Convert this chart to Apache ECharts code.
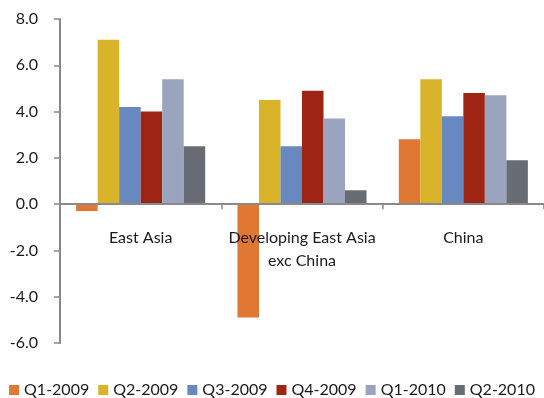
<!DOCTYPE html>
<html>
<head>
<meta charset="utf-8">
<script src="https://cdn.jsdelivr.net/npm/echarts@6/dist/echarts.min.js"></script>
<style>
  html, body { margin: 0; padding: 0; background: #fff; }
  #chart { width: 544px; height: 398px; }
</style>
</head>
<body>
<div id="chart"></div>
<script>
// Quarterly GDP growth by region
const categories = ['East Asia', 'Developing East Asia\nexc China', 'China'];
const seriesNames = ['Q1-2009', 'Q2-2009', 'Q3-2009', 'Q4-2009', 'Q1-2010', 'Q2-2010'];
const q1_2009 = [-0.3, -4.9, 2.8];
const q2_2009 = [7.1, 4.5, 5.4];
const q3_2009 = [4.2, 2.5, 3.8];
const q4_2009 = [4.0, 4.9, 4.8];
const q1_2010 = [5.4, 3.7, 4.7];
const q2_2010 = [2.5, 0.6, 1.9];
const seriesValues = [q1_2009, q2_2009, q3_2009, q4_2009, q1_2010, q2_2010];
const colors = ['#E07733', '#D9B42A', '#6888C0', '#9E2513', '#9AA4BE', '#686D75'];

const yMin = -6, yMax = 8;
const W = 544, H = 398;
const grid = { left: 60, right: 0, top: 19, bottom: 55 };
const plotH = H - grid.top - grid.bottom;
// lift the category axis from the bottom edge up to the zero line
const zeroOffset = plotH * (0 - yMin) / (yMax - yMin);

const font = 'Lato, "Open Sans", sans-serif';
const chart = echarts.init(document.getElementById('chart'));
chart.setOption({
  animation: false,
  color: colors,
  grid: Object.assign({ containLabel: false }, grid),
  legend: {
    bottom: 0,
    left: 'center',
    padding: 0,
    itemWidth: 10,
    itemHeight: 10,
    itemGap: 9,
    icon: 'rect',
    textStyle: { fontFamily: font, fontSize: 16, color: '#1a1a1a' },
    data: seriesNames
  },
  xAxis: {
    type: 'category',
    data: categories,
    position: 'bottom',
    offset: -zeroOffset,
    z: 10,
    axisLine: { onZero: false, lineStyle: { color: '#898989', width: 2 } },
    axisTick: { show: true, length: 5, lineStyle: { color: '#898989', width: 1.5 } },
    axisLabel: { margin: 22, fontFamily: font, fontSize: 16, color: '#1a1a1a', lineHeight: 23, hideOverlap: false, interval: 0 }
  },
  yAxis: {
    type: 'value',
    min: yMin,
    max: yMax,
    interval: 2,
    splitLine: { show: false },
    axisLine: { show: true, lineStyle: { color: '#898989', width: 2 } },
    axisTick: { show: true, length: 6, lineStyle: { color: '#898989', width: 1.5 } },
    axisLabel: {
      margin: 22,
      fontFamily: font,
      fontSize: 16,
      color: '#1a1a1a',
      formatter: v => v.toFixed(1)
    }
  },
  series: seriesNames.map((name, i) => ({
    name: name,
    type: 'bar',
    data: seriesValues[i],
    barGap: '0%',
    barCategoryGap: '20%'
  }))
});
</script>
</body>
</html>
